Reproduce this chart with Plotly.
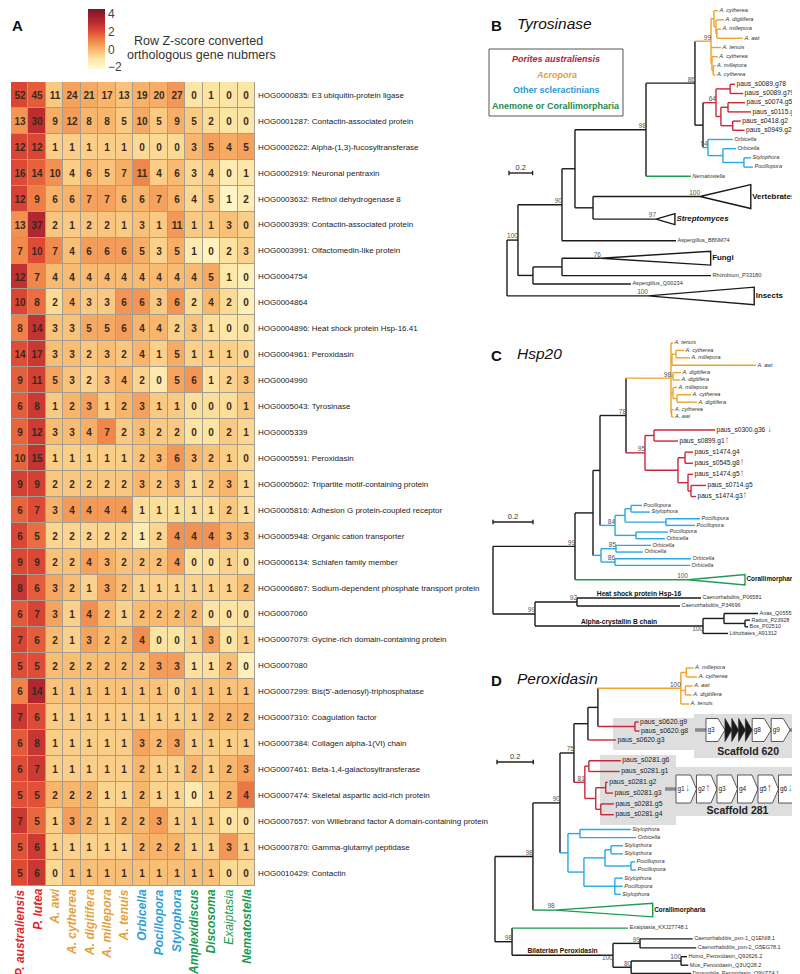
import re
import numpy as np
import plotly.graph_objects as go

W, H = 800, 974
SANS = "Liberation Sans, Arial, sans-serif"

# ------------------------------------------------------------------ data
species = ["P. australiensis", "P. lutea", "A. awi", "A. cytherea", "A. digitifera",
           "A. millepora", "A. tenuis", "Orbicella", "Pocillopora", "Stylophora",
           "Amplexidiscus", "Discosoma", "Exaiptasia", "Nematostella"]
species_group = ["paus", "paus", "acro", "acro", "acro", "acro", "acro",
                 "scler", "scler", "scler", "anem", "anem", "anem", "anem"]

hog_ids = ["HOG0000835", "HOG0001287", "HOG0002622", "HOG0002919", "HOG0003632",
           "HOG0003939", "HOG0003991", "HOG0004754", "HOG0004864", "HOG0004896",
           "HOG0004961", "HOG0004990", "HOG0005043", "HOG0005339", "HOG0005591",
           "HOG0005602", "HOG0005816", "HOG0005948", "HOG0006134", "HOG0006867",
           "HOG0007060", "HOG0007079", "HOG0007080", "HOG0007299", "HOG0007310",
           "HOG0007384", "HOG0007461", "HOG0007474", "HOG0007657", "HOG0007870",
           "HOG0010429"]
hog_desc = ["E3 ubiquitin-protein ligase", "Contactin-associated protein",
            "Alpha-(1,3)-fucosyltransferase", "Neuronal pentraxin", "Retinol dehydrogenase 8",
            "Contactin-associated protein", "Olfactomedin-like protein", "", "",
            "Heat shock protein Hsp-16.41", "Peroxidasin", "", "Tyrosinase", "",
            "Peroxidasin", "Tripartite motif-containing protein",
            "Adhesion G protein-coupled receptor", "Organic cation transporter",
            "Schlafen family member", "Sodium-dependent phosphate transport protein", "",
            "Gycine-rich domain-containing protein", "", "Bis(5'-adenosyl)-triphosphatase",
            "Coagulation factor", "Collagen alpha-1(VI) chain", "Beta-1,4-galactosyltransferase",
            "Skeletal aspartic acid-rich protein",
            "von Willebrand factor A domain-containing protein", "Gamma-glutamyl peptidase",
            "Contactin"]

counts = [
    [52, 45, 11, 24, 21, 17, 13, 19, 20, 27, 0, 1, 0, 0],
    [13, 30, 9, 12, 8, 8, 5, 10, 5, 9, 5, 2, 0, 0],
    [12, 12, 1, 1, 1, 1, 1, 0, 0, 0, 3, 5, 4, 5],
    [16, 14, 10, 4, 6, 5, 7, 11, 4, 6, 3, 4, 0, 1],
    [12, 9, 6, 6, 7, 7, 6, 6, 7, 6, 4, 5, 1, 2],
    [13, 37, 2, 1, 2, 2, 1, 3, 1, 11, 1, 1, 3, 0],
    [7, 10, 7, 4, 6, 6, 6, 5, 3, 5, 1, 0, 2, 3],
    [12, 7, 4, 4, 4, 4, 4, 4, 4, 4, 4, 5, 1, 0],
    [10, 8, 2, 4, 3, 3, 6, 6, 3, 6, 2, 4, 2, 0],
    [8, 14, 3, 3, 5, 5, 6, 4, 4, 2, 3, 1, 0, 0],
    [14, 17, 3, 3, 2, 3, 2, 4, 1, 5, 1, 1, 1, 0],
    [9, 11, 5, 3, 2, 3, 4, 2, 0, 5, 6, 1, 2, 3],
    [6, 8, 1, 2, 3, 1, 2, 3, 1, 1, 0, 0, 0, 1],
    [9, 12, 3, 3, 4, 7, 2, 3, 2, 2, 0, 0, 2, 1],
    [10, 15, 1, 1, 1, 1, 1, 2, 3, 6, 3, 2, 1, 0],
    [9, 9, 2, 2, 2, 2, 2, 3, 2, 3, 1, 2, 3, 1],
    [6, 7, 3, 4, 4, 4, 4, 1, 1, 1, 1, 1, 2, 1],
    [6, 5, 2, 2, 2, 2, 2, 1, 2, 4, 4, 4, 3, 3],
    [9, 9, 2, 2, 4, 3, 2, 2, 2, 4, 0, 0, 1, 0],
    [8, 6, 3, 2, 1, 3, 2, 1, 1, 1, 1, 1, 1, 2],
    [6, 7, 3, 1, 4, 2, 1, 2, 2, 2, 2, 0, 0, 0],
    [7, 6, 2, 1, 3, 2, 2, 4, 0, 0, 1, 3, 0, 1],
    [5, 5, 2, 2, 2, 2, 2, 2, 3, 3, 1, 1, 2, 0],
    [6, 14, 1, 1, 1, 1, 1, 1, 1, 0, 1, 1, 1, 1],
    [7, 6, 1, 1, 1, 1, 1, 1, 1, 1, 1, 2, 2, 2],
    [6, 8, 1, 1, 1, 1, 1, 3, 2, 3, 1, 1, 1, 1],
    [6, 7, 1, 1, 1, 1, 1, 2, 1, 1, 2, 1, 2, 3],
    [5, 5, 2, 2, 2, 1, 1, 2, 1, 1, 0, 1, 2, 4],
    [7, 5, 1, 3, 2, 1, 2, 2, 3, 1, 1, 1, 0, 0],
    [5, 6, 1, 1, 1, 1, 1, 2, 2, 2, 1, 1, 3, 1],
    [5, 6, 0, 1, 1, 1, 1, 1, 1, 1, 1, 1, 0, 0],
]

# Phylogenies (Newick; branch lengths in substitutions/site).
# leaf-label modifiers: *depth*height = collapsed clade, #w = row weight,
# ~g = extra space before, %s = support, =text = branch caption
newick_tyrosinase = (
    "((((((((A. cytherea:0.034,(A. digitifera:0.068,(A. millepora:0.034,A. awi:0.22):0.008):0.017):0.025,"
    "A. tenuis:0.085,(A. cytherea:0.05,(A. millepora:0.02,A. cytherea:0.02):0.01):0.008)99:0.136,"
    "(((paus_s0089.g78:0.042,paus_s0089.g79:0.11):0.12,((paus_s0074.g53:0.144,paus_s0115.g16:0.195):0.06,"
    "(paus_s0418.g2:0.068,paus_s0949.g2:0.1):0.1):0.042)64:0.11,"
    "(Orbicella:0.21,(Orbicella:0.11,(Stylophora:0.06,Pocillopora:0.076):0.178):0.127)54:0.042):0.068)86:0.415,"
    "Nematostella:0.38)98:0.602,"
    "(Vertebrates*0.43*2.6~0.2#3%100:0.907,Streptomyces*0.16*1.2#1.9%97:0.534):0.153):0.11,"
    "Aspergillus_B8NM74~0.9:0.966)90:0.373,"
    "((Fungi*0.93*1.5~0.9%76:0.33,Rhizobium_P33180~0.9:1.263):0.246,Aspergillus_Q00234#0.8:0.83):0.127)100:0.093,"
    "Insects*0.9*1.9~0.4%100:1.195);"
)
newick_hsp20 = (
    "((((((A. tenuis:0.01,((A. cytherea:0.04,A. millepora:0.07):0.02,A. awi:0.42):0.005,"
    "(A. digitifera:0.04,A. digitifera:0.035):0.01,(A. millepora:0.02,(A. cytherea:0.07,A. digitifera:0.1):0.02):0.01,"
    "(A. cytherea:0.01,A. awi:0.01):0.003)98:0.225,"
    "((paus_s0300.g36~0.5#1.5:0.305,paus_s0899.g1#1.5:0.12):0.045,((paus_s1474.g4#1.5:0.04,paus_s0545.g8#1.5:0.04):0.035,"
    "(paus_s1474.g5#1.5:0.025,(paus_s0714.g5#1.5:0.075,paus_s1474.g3#1.5:0.025):0.015):0.05):0.165)95:0.095)78:0.13,"
    "(((Pocillopora#0.9:0.055,Stylophora#0.9:0.095):0.03,(Pocillopora#0.9:0.17,Pocillopora#0.9:0.145):0.205):0.05,"
    "(Pocillopora#0.9:0.16,Orbicella#0.9:0.145):0.105)84:0.075):0.035,"
    "((Orbicella#0.9:0.175,Orbicella#0.9:0.135)85:0.075,(Orbicella#0.9:0.38,Orbicella#0.9:0.375)86:0.07):0.04):0.09,"
    "Corallimorpharia*0.285*1.4#3%100:0.565)99:0.41,"
    "((Caenorhabditis_P06581=Heat shock protein Hsp-16~0.4#1.1:0.62,Caenorhabditis_P34696#1.1:0.515)92:0.21,"
    "((Anas_Q05557#0.9:0.17,(Rattus_P23928#0.9:0.025,Bos_P02510#0.9:0.015):0.105):0.105,"
    "Lithobates_A91312#0.9:0.125)100=Alpha-crystallin B chain:0.84)99:0.21);"
)
newick_peroxidasin = (
    "((((((((A. millepora:0.04,A. cytherea:0.06):0.03,(A. awi:0.04,A. digitifera:0.035):0.025,A. tenuis:0.045)100:0.457,"
    "(paus_s0620.g9~1:0.02,paus_s0620.g8:0.025):0.204):0.055,paus_s0620.g3:0.154):0.077,"
    "((paus_s0281.g6~1.2#1.2:0.176,paus_s0281.g1#1.2:0.17):0.022,((paus_s0281.g2#1.2:0.011,paus_s0281.g3#1.2:0.04):0.055,"
    "(paus_s0281.g5#1.2:0.072,paus_s0281.g4#1.2:0.072):0.028):0.06)81:0.06)75:0.077,"
    "((Stylophora~0.6#0.9:0.28,Orbicella#0.9:0.31):0.066,(((Stylophora#0.9:0.066,Stylophora#0.9:0.066):0.033,"
    "(Pocillopora#0.9:0.022,Pocillopora#0.9:0.028):0.143):0.116,"
    "(Stylophora#0.9:0.044,Pocillopora#0.9:0.044,Stylophora#0.9:0.033):0.17):0.088):0.044)90:0.149,"
    "Corallimorpharia*0.54*1.5#2.6%98:0.12)98:0.209,"
    "(Exaiptasia_KXJ27748.1#1.4:0.64,((Caenorhabditis_pxn-1_Q1ENI8.1:0.29,Caenorhabditis_pxn-2_G5EG78.1:0.31)99:0.149,"
    "((Homo_Peroxidasin_Q92626.2#0.95:0.033,Mus_Peroxidasin_Q3UQ28.2#0.95:0.04)100:0.275,"
    "Drosophila_Peroxidasin_Q9VZZ4.1#0.9:0.33)80:0.1)100=Bilaterian Peroxidasin:0.556)98:0.094);"
)
hsp20_marks = {"paus_s0300.g36": "down", "paus_s0899.g1": "up", "paus_s0545.g8": "up",
               "paus_s1474.g5": "up", "paus_s1474.g3": "up"}

scaffold620_genes = ["g3", "", "", "", "", "g8", "g9"]
scaffold281_genes = ["g1", "g2", "g3", "g4", "g5", "g6"]
scaffold281_marks = ["down", "up", "", "", "up", "down"]

legend_items = [("Porites australiensis", "#a8263a", True), ("Acropora", "#e2a040", True),
                ("Other scleractinians", "#2b9ad0", False), ("Anemone or Corallimorpharia", "#1e8a4a", False)]

# ------------------------------------------------------------------ styles
TREE_COL = dict(paus="#c9283b", acro="#f0a12c", scler="#27a9e1", anem="#1e9a55", other="#1a1a1a")
LABEL_COL = dict(paus="#e3262e", acro="#e3a13c", scler="#2a9fd8", anem="#1a9a52")
UP_COL, DOWN_COL = "#e0282e", "#2aa5dc"
CS = [[0.0, "#fffbd2"], [0.179, "#fde3a1"], [0.328, "#f8b46a"], [0.478, "#f08549"],
      [0.627, "#de4b35"], [0.776, "#b92a30"], [1.0, "#7a1629"]]


def px(x):
    return x / W


def py(y):
    return 1 - y / H


def mark_html(kind, size):
    if kind == "up":
        return f"<span style='color:{UP_COL};font-size:{size}px'><b>\u2191</b></span>"
    if kind == "down":
        return f"<span style='color:{DOWN_COL};font-size:{size}px'><b>\u2193</b></span>"
    return ""


fig = go.Figure()
annotations = []
shapes = []

# ------------------------------------------------------------------ heatmap (A)
arr = np.array(counts, dtype=float)
z = (arr - arr.mean(axis=1, keepdims=True)) / arr.std(axis=1, ddof=1, keepdims=True)
nrow, ncol = arr.shape
fig.add_trace(go.Heatmap(
    z=z, x=list(range(ncol)), y=list(range(nrow)),
    text=arr.astype(int).astype(str), texttemplate="%{text}",
    textfont=dict(family=SANS, size=10, color="#3a2a1c", weight="bold"),
    colorscale=CS, zmin=-2.2, zmax=4.5, xgap=1, ygap=1, hoverinfo="skip",
    colorbar=dict(x=px(80), xanchor="left", y=py(1), yanchor="top", len=60, lenmode="pixels",
                  thickness=17, thicknessmode="pixels", outlinewidth=0, xpad=0, ypad=0,
                  tickvals=[-2, 0, 2, 4], ticktext=["\u22122", "0", "2", "4"], ticks="",
                  ticklabeloverflow="allow",
                  tickfont=dict(family=SANS, size=12, color="#444")),
    xaxis="x", yaxis="y"))
shapes.append(dict(type="rect", xref="x", yref="y", x0=-0.5, x1=ncol - 0.5, y0=-0.5, y1=nrow - 0.5,
                   fillcolor="#a49d92", line=dict(color="#a49d92", width=1), layer="below"))

row_labels = [f"{h}: {d}" if d else h for h, d in zip(hog_ids, hog_desc)]
for i, (sp, g) in enumerate(zip(species, species_group)):
    txt = f"<i>{sp}</i>" if sp == "Exaiptasia" else f"<b><i>{sp}</i></b>"
    annotations.append(dict(x=i, xref="x", y=py(880), yref="paper", text=txt, textangle=-90,
                            xanchor="center", yanchor="top", showarrow=False, borderpad=0,
                            font=dict(family=SANS, size=12, color=LABEL_COL[g])))
annotations.append(dict(x=px(124), y=py(24), xref="paper", yref="paper", text="Row Z-score converted",
                        xanchor="left", showarrow=False, font=dict(family=SANS, size=12.5, color="#333")))
annotations.append(dict(x=px(117), y=py(38), xref="paper", yref="paper", text="orthologous gene nubmers",
                        xanchor="left", showarrow=False, font=dict(family=SANS, size=12.5, color="#333")))

# ------------------------------------------------------------------ trees
MOD = re.compile(r"([*#~%=])([^*#~%=]*)")


def parse_newick(s):
    s = s.strip().rstrip(";")
    pos = 0

    def node():
        nonlocal pos
        kids = []
        if s[pos] == "(":
            pos += 1
            while True:
                kids.append(node())
                ch = s[pos]
                pos += 1
                if ch == ")":
                    break
        st = pos
        while pos < len(s) and s[pos] not in ":,)":
            pos += 1
        label = s[st:pos]
        length = 0.0
        if pos < len(s) and s[pos] == ":":
            pos += 1
            st = pos
            while pos < len(s) and s[pos] not in ",)":
                pos += 1
            length = float(s[st:pos])
        return dict(label=label, length=length, children=kids)

    return node()


def parse_label(lbl):
    m = re.match(r"^([^*#~%=]*)(.*)$", lbl)
    info = dict(name=m.group(1).strip(), tri=[], w=1.0, gap=0.0, sup=None, title=None)
    for k, v in MOD.findall(m.group(2)):
        if k == "*":
            info["tri"].append(float(v))
        elif k == "#":
            info["w"] = float(v)
        elif k == "~":
            info["gap"] = float(v)
        elif k == "%":
            info["sup"] = v
        elif k == "=":
            info["title"] = v
    return info


def leaf_group(name):
    if name.startswith("A. "):
        return "acro"
    if name.startswith("paus_"):
        return "paus"
    if name in ("Orbicella", "Stylophora", "Pocillopora"):
        return "scler"
    if name.startswith(("Nematostella", "Corallimorpharia", "Exaiptasia")):
        return "anem"
    return "other"


def layout_tree(root):
    cursor = [0.0]
    nodes = []

    def rec(n, parent):
        n.update(parse_label(n["label"]))
        n["parent"] = parent
        n["x"] = (parent["x"] if parent else 0.0) + n["length"]
        nodes.append(n)
        if n["children"]:
            for c in n["children"]:
                rec(c, n)
            ys = [c["y"] for c in n["children"]]
            n["y"] = (min(ys) + max(ys)) / 2
            gs = {c["group"] for c in n["children"]}
            n["group"] = gs.pop() if len(gs) == 1 else "other"
            if n["name"]:
                n["sup"] = n["name"]
        else:
            cursor[0] += n["gap"]
            n["y"] = cursor[0] + n["w"] / 2
            cursor[0] += n["w"]
            n["group"] = leaf_group(n["name"])

    rec(root, None)
    return nodes


def draw_tree(tid, newick, cfg, marks):
    root = parse_newick(newick)
    nodes = layout_tree(root)
    leaves = [n for n in nodes if not n["children"]]
    u_first = leaves[0]["y"]
    ppu, ppl = cfg["ppu"], cfg["ppl"]
    bx0, by0, bx1, by1 = cfg["box"]
    xa, ya = f"x{tid}", f"y{tid}"

    def ux(X):
        return (X - cfg["root_px"]) / ppu

    def uy(Y):
        return u_first + (Y - cfg["y_first"]) / ppl

    fig.layout[f"xaxis{tid}"] = dict(domain=[px(bx0), px(bx1)], range=[ux(bx0), ux(bx1)],
                                     visible=False, anchor=ya, fixedrange=True)
    fig.layout[f"yaxis{tid}"] = dict(domain=[py(by1), py(by0)], range=[uy(by1), uy(by0)],
                                     visible=False, anchor=xa, fixedrange=True)

    segs = {}

    def seg(color, xs, ys):
        d = segs.setdefault(color, ([], []))
        d[0].extend(xs + [None])
        d[1].extend(ys + [None])

    for n in nodes:
        if n["children"]:
            ys = [c["y"] for c in n["children"]]
            seg(TREE_COL[n["group"]], [n["x"], n["x"]], [min(ys), max(ys)])
            for c in n["children"]:
                seg(TREE_COL[c["group"]], [n["x"], c["x"]], [c["y"], c["y"]])
    for color, (xs, ys) in segs.items():
        fig.add_trace(go.Scatter(x=xs, y=ys, mode="lines", line=dict(color=color, width=1.4),
                                 xaxis=xa, yaxis=ya, hoverinfo="skip"))
    # collapsed clades
    for n in leaves:
        if n["tri"]:
            d, h = n["tri"]
            fig.add_trace(go.Scatter(
                x=[n["x"], n["x"] + d, n["x"] + d, n["x"]],
                y=[n["y"], n["y"] - h / 2, n["y"] + h / 2, n["y"]],
                mode="lines", fill="toself", fillcolor="white",
                line=dict(color=TREE_COL[n["group"]], width=1.4), xaxis=xa, yaxis=ya, hoverinfo="skip"))
    # leaf labels
    lx, ly, lt, ls, lc = [], [], [], [], []
    for n in leaves:
        name, g = n["name"], n["group"]
        if n["tri"]:
            t = f"<b><i>{name}</i></b>" if name == "Streptomyces" else f"<b>{name}</b>"
            size, color = cfg["tri_size"], "#111"
        elif g in ("acro", "scler") or name == "Nematostella":
            t, size, color = f"<i>{name}</i>", cfg["sp_size"], "#333"
        elif g == "paus":
            t, size, color = name, cfg["paus_size"], "#222"
        else:
            t, size, color = name, cfg["acc_size"], "#333"
        mk = marks.get(name)
        if mk:
            t += (" " if mk == "down" else "") + mark_html(mk, 10)
        lx.append(n["x"] + (n["tri"][0] if n["tri"] else 0) + 1.5 / ppu)
        ly.append(n["y"])
        lt.append(t)
        ls.append(size)
        lc.append(color)
    fig.add_trace(go.Scatter(x=lx, y=ly, text=lt, mode="text", textposition="middle right",
                             textfont=dict(family=SANS, size=ls, color=lc), cliponaxis=False,
                             xaxis=xa, yaxis=ya, hoverinfo="skip"))
    # support values (below the branch when the branch carries a caption)
    for pos_name, want_title in (("top left", False), ("bottom left", True)):
        sx, sy, st = [], [], []
        for n in nodes:
            if n["sup"] and n["parent"] is not None and bool(n["title"]) == want_title:
                sx.append(n["x"])
                sy.append(n["y"])
                st.append(n["sup"])
        if st:
            fig.add_trace(go.Scatter(x=sx, y=sy, text=st, mode="text", textposition=pos_name,
                                     textfont=dict(family=SANS, size=cfg["sup_size"], color="#555"),
                                     cliponaxis=False, xaxis=xa, yaxis=ya, hoverinfo="skip"))
    # branch captions
    tx, ty, tt = [], [], []
    for n in nodes:
        if n["title"]:
            tx.append((n["parent"]["x"] + n["x"]) / 2)
            ty.append(n["y"] - 0.1)
            tt.append(f"<b>{n['title']}</b>")
    if tt:
        fig.add_trace(go.Scatter(x=tx, y=ty, text=tt, mode="text", textposition="top center",
                                 textfont=dict(family=SANS, size=cfg["cap_size"], color="#111"),
                                 cliponaxis=False, xaxis=xa, yaxis=ya, hoverinfo="skip"))
    # scale bar (0.2 substitutions/site)
    sbx, sby = cfg["scale_px"]
    x0, yb = ux(sbx), uy(sby)
    tick = 2.2 / ppl
    fig.add_trace(go.Scatter(x=[x0, x0 + 0.2, None, x0, x0, None, x0 + 0.2, x0 + 0.2],
                             y=[yb, yb, None, yb - tick, yb + tick, None, yb - tick, yb + tick],
                             mode="lines", line=dict(color="#222", width=1.4),
                             xaxis=xa, yaxis=ya, hoverinfo="skip"))
    fig.add_trace(go.Scatter(x=[x0 + 0.1], y=[yb - 0.1], text=["0.2"], mode="text",
                             textposition="top center", textfont=dict(family=SANS, size=7.5, color="#333"),
                             cliponaxis=False, xaxis=xa, yaxis=ya, hoverinfo="skip"))


tree_cfg = {
    2: dict(root_px=499, ppu=118, y_first=2.7, ppl=9.2, box=(480, 0, 800, 330), scale_px=(501, 165),
            sp_size=5.6, paus_size=6.7, acc_size=5.6, tri_size=7.9, sup_size=6.5, cap_size=6.7),
    3: dict(root_px=485, ppu=200, y_first=335, ppl=7.4, box=(480, 330, 800, 650), scale_px=(485, 514),
            sp_size=5.5, paus_size=6.6, acc_size=5.5, tri_size=6.4, sup_size=6.5, cap_size=6.7),
    4: dict(root_px=487, ppu=181.5, y_first=660, ppl=9.0, box=(480, 650, 800, 974), scale_px=(489, 754),
            sp_size=5.7, paus_size=6.9, acc_size=5.5, tri_size=6.4, sup_size=6.5, cap_size=6.7),
}
draw_tree(2, newick_tyrosinase, tree_cfg[2], {})
draw_tree(3, newick_hsp20, tree_cfg[3], hsp20_marks)
draw_tree(4, newick_peroxidasin, tree_cfg[4], {})

# ------------------------------------------------------------------ scaffold diagrams (overlay, pixel axis)
for (x0, y0, x1, y1) in [(605, 710, 687, 742), (686, 706, 800, 750), (592, 747, 668, 817), (668, 759, 798, 808)]:
    shapes.append(dict(type="rect", xref="paper", yref="paper", x0=px(x0), x1=px(x1), y0=py(y1), y1=py(y0),
                       fillcolor="#dedede", line=dict(width=0), layer="below"))


def gene_arrow(x0, x1, yc, hh, head, fill):
    fig.add_trace(go.Scatter(x=[x0, x1 - head, x1, x1 - head, x0, x0],
                             y=[yc - hh, yc - hh, yc, yc + hh, yc + hh, yc - hh],
                             mode="lines", fill="toself", fillcolor=fill,
                             line=dict(color="#333", width=0.8), xaxis="x5", yaxis="y5", hoverinfo="skip"))


def scaffold(genes, marks, x_start, yc, hh, w_white, w_black, head, title, title_y):
    x = x_start
    total = sum(w_white if g else w_black for g in genes)
    fig.add_trace(go.Scatter(x=[x_start - 11, x_start + total + 6], y=[yc, yc], mode="lines",
                             line=dict(color="#8a8a8a", width=3.5), xaxis="x5", yaxis="y5", hoverinfo="skip"))
    tx, ty, tt = [], [], []
    for g, m in zip(genes, marks):
        w = w_white if g else w_black
        gene_arrow(x, x + w, yc, hh, head if g else w, "white" if g else "#1a1a1a")
        if g:
            tx.append(x + 1.5)
            ty.append(yc)
            tt.append(g + mark_html(m, 11))
        x += w
    fig.add_trace(go.Scatter(x=tx, y=ty, text=tt, mode="text", textposition="middle right",
                             textfont=dict(family=SANS, size=6.5, color="#222"), cliponaxis=False,
                             xaxis="x5", yaxis="y5", hoverinfo="skip"))
    fig.add_trace(go.Scatter(x=[(x_start + x) / 2], y=[title_y], text=[f"<b>{title}</b>"], mode="text",
                             textfont=dict(family=SANS, size=10.5, color="#222"), cliponaxis=False,
                             xaxis="x5", yaxis="y5", hoverinfo="skip"))


scaffold(scaffold620_genes, [""] * len(scaffold620_genes), 698, 722, 11.5, 19, 6.8, 7, "Scaffold 620", 744)
scaffold(scaffold281_genes, scaffold281_marks, 668, 781, 14, 20.5, 6, 6, "Scaffold 281", 803)

fig.layout["xaxis5"] = dict(domain=[0, 1], range=[0, W], visible=False, anchor="y5", fixedrange=True)
fig.layout["yaxis5"] = dict(domain=[0, 1], range=[H, 0], visible=False, anchor="x5", fixedrange=True)

# ------------------------------------------------------------------ panel titles & legend
for letter, ly_, title in [("A", 17, None), ("B", 17, "Tyrosinase"), ("C", 347, "Hsp20"), ("D", 672, "Peroxidasin")]:
    lx_ = 2 if letter == "A" else 481
    annotations.append(dict(x=px(lx_), y=py(ly_), xref="paper", yref="paper", text=f"<b>{letter}</b>",
                            xanchor="left", yanchor="middle", showarrow=False,
                            font=dict(family=SANS, size=15, color="#111")))
    if title:
        annotations.append(dict(x=px(507), y=py(ly_ - 2), xref="paper", yref="paper", text=f"<i>{title}</i>",
                                xanchor="left", yanchor="middle", showarrow=False,
                                font=dict(family=SANS, size=15.5, color="#111")))

shapes.append(dict(type="rect", xref="paper", yref="paper", x0=px(481), x1=px(615), y0=py(108), y1=py(41),
                   fillcolor="white", line=dict(color="#555", width=1)))
for k, (txt, col, ital) in enumerate(legend_items):
    t = f"<b><i>{txt}</i></b>" if ital else f"<b>{txt}</b>"
    annotations.append(dict(x=px(548), y=py(51 + k * 15.7), xref="paper", yref="paper", text=t,
                            showarrow=False, xanchor="center", yanchor="middle",
                            font=dict(family=SANS, size=9, color=col)))

fig.update_layout(
    width=W, height=H, margin=dict(l=0, r=0, t=0, b=0),
    paper_bgcolor="white", plot_bgcolor="rgba(0,0,0,0)", showlegend=False,
    xaxis=dict(domain=[px(3), px(247)], range=[-0.5, ncol - 0.5], visible=False, fixedrange=True),
    yaxis=dict(domain=[py(878), py(74)], range=[nrow - 0.5, -0.5], tickvals=list(range(nrow)),
               ticktext=row_labels, side="right", showgrid=False, zeroline=False, showline=False,
               ticks="", ticklabelstandoff=2, tickfont=dict(family=SANS, size=8, color="#222"),
               fixedrange=True, anchor="x"),
    annotations=annotations, shapes=shapes,
)

fig.write_html("out.html")
